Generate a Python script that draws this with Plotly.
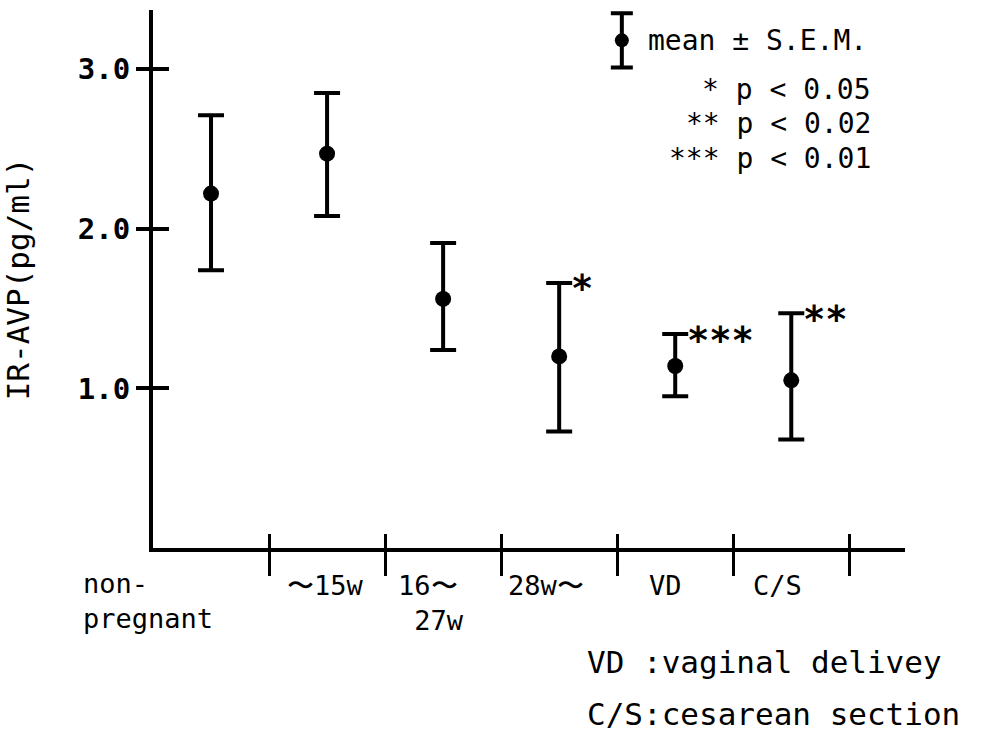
import plotly.graph_objects as go

# ---- data ----
categories = ["non-<br>pregnant", "〜15w", "16〜<br> 27w", "28w〜", "VD", "C/S"]
means = [2.22, 2.47, 1.56, 1.20, 1.14, 1.05]
upper = [2.71, 2.85, 1.91, 1.66, 1.34, 1.47]
lower = [1.74, 2.08, 1.24, 0.73, 0.95, 0.68]
signif = ["", "", "", "*", "***", "**"]
ytick_vals = [1, 2, 3]
ytick_text = ["1.0", "2.0", "3.0"]
xtick_vals = [1, 2, 3, 4, 5, 6]
legend_lines = ["* p < 0.05", "** p < 0.02", "*** p < 0.01"]
footnotes = ["VD :vaginal delivey", "C/S:cesarean section"]

FONT = "DejaVu Sans Mono"
xpos = [i + 0.5 for i in range(len(categories))]
err_plus = [u - m for u, m in zip(upper, means)]
err_minus = [m - l for m, l in zip(means, lower)]

fig = go.Figure()
fig.add_trace(go.Scatter(
    x=xpos, y=means, mode="markers",
    marker=dict(color="black", size=16),
    error_y=dict(type="data", symmetric=False, array=err_plus, arrayminus=err_minus,
                 color="black", thickness=4, width=13),
    showlegend=False, hoverinfo="skip"))

# legend glyph (mean ± S.E.M.)
fig.add_trace(go.Scatter(
    x=[4.04], y=[3.18], mode="markers",
    marker=dict(color="black", size=14),
    error_y=dict(type="data", array=[0.17], color="black", thickness=4, width=11),
    showlegend=False, hoverinfo="skip", xaxis="x2", yaxis="y2"))

annotations = []
# x category labels
shifts = {1: -2, 2: -12, 3: -13, 4: -10, 5: -14}
for i, (c, x) in enumerate(zip(categories, xpos)):
    if i == 0:
        annotations.append(dict(x=0, y=0, xref="x", yref="y", text=c, showarrow=False,
                                xanchor="left", yanchor="top", align="left",
                                xshift=-72, yshift=-18,
                                font=dict(family=FONT, size=27, color="black")))
    else:
        annotations.append(dict(x=x, y=0, xref="x", yref="y", text=c, showarrow=False,
                                xanchor="center", yanchor="top", align="left",
                                xshift=shifts[i], yshift=-20,
                                font=dict(family=FONT, size=27, color="black")))

# significance stars
for x, u, s in zip(xpos, upper, signif):
    if s:
        annotations.append(dict(x=x, y=u, xref="x", yref="y", text=s, showarrow=False,
                                xanchor="left", yanchor="middle", xshift=10, yshift=-6,
                                font=dict(family=FONT, size=37, color="black", weight="bold")))

# legend texts
annotations.append(dict(x=4.25, y=3.18, xref="x", yref="y", text="mean ± S.E.M.", showarrow=False,
                        xanchor="left", yanchor="middle",
                        font=dict(family=FONT, size=28, color="black")))
for yv, t in zip([2.875, 2.66, 2.44], legend_lines):
    annotations.append(dict(x=6.2, y=yv, xref="x", yref="y", text=t, showarrow=False,
                            xanchor="right", yanchor="middle",
                            font=dict(family=FONT, size=28, color="black")))

# footnotes (below the plot area)
for yp, t in zip([-0.212, -0.308], footnotes):
    annotations.append(dict(x=0.574, y=yp, xref="paper", yref="paper", text=t,
                            showarrow=False, xanchor="left", yanchor="middle",
                            font=dict(family=FONT, size=31, color="black")))

fig.update_layout(
    width=994, height=732,
    margin=dict(l=153, r=89, t=10, b=184),
    paper_bgcolor="white", plot_bgcolor="white",
    showlegend=False,
    xaxis=dict(range=[0, 6.48], showgrid=False, zeroline=False, showline=True,
               linecolor="black", linewidth=4, ticks="outside", ticklen=24, tickwidth=3,
               tickcolor="black", tickvals=xtick_vals, showticklabels=False, automargin=False),
    yaxis=dict(range=[0, 3.37], showgrid=False, zeroline=False, showline=True,
               linecolor="black", linewidth=4, ticks="outside", ticklen=13, tickwidth=4,
               tickcolor="black", tickvals=ytick_vals, ticktext=ytick_text, automargin=False,
               tickfont=dict(family=FONT, size=29, color="black", weight="bold"),
               title=dict(text="IR-AVP(pg/ml)", standoff=42,
                          font=dict(family=FONT, size=31, color="black"))),
    xaxis2=dict(range=[0, 6.48], overlaying="x", anchor="y2", showgrid=False, zeroline=False,
                showline=False, ticks="inside", ticklen=14, tickwidth=3, tickcolor="black",
                tickvals=xtick_vals, showticklabels=False),
    yaxis2=dict(range=[0, 3.37], overlaying="y", anchor="x2", side="left", showgrid=False,
                zeroline=False, showline=False, ticks="inside", ticklen=16, tickwidth=4,
                tickcolor="black", tickvals=ytick_vals, showticklabels=False),
    annotations=annotations,
)

fig.write_html("out.html", config={"displayModeBar": False},
               post_script="document.body.style.margin='0';")
